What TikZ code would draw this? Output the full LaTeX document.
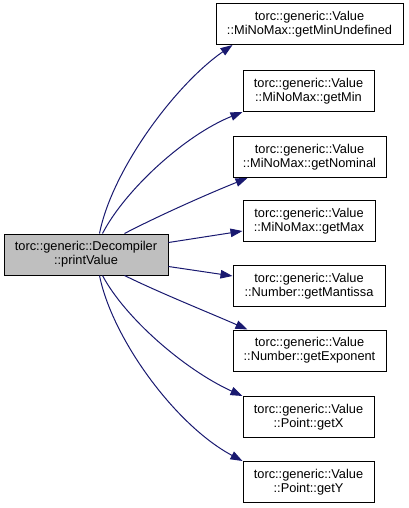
\documentclass[tikz,border=0pt]{standalone}
\usepackage{fontspec}
\setmainfont{Liberation Sans}
\usetikzlibrary{arrows.meta,calc}
\definecolor{edgecol}{HTML}{191970}
\definecolor{fillgray}{HTML}{BFBFBF}
\begin{document}
\begin{tikzpicture}[x=0.75pt,y=-0.75pt,
  box/.style={draw=black,line width=0.75pt,inner sep=0pt,align=center,
    minimum height=30.75pt,font=\fontsize{9.6}{10.5}\selectfont},
  edge/.style={draw=edgecol,line width=0.75pt,-{Triangle[length=9pt,width=6.4pt]}}]
\useasboundingbox (0,0) rectangle (408,508);
\node[box,fill=fillgray,minimum width=123pt] (L) at (86,254.5) {torc::generic::Decompiler\\::printValue};
\node[box,fill=white,minimum width=140.25pt] (r1) at (309.5,24) {torc::generic::Value\\::MiNoMax::getMinUndefined};
\node[box,fill=white,minimum width=98.25pt] (r2) at (308.5,91) {torc::generic::Value\\::MiNoMax::getMin};
\node[box,fill=white,minimum width=114.75pt] (r3) at (309.5,157) {torc::generic::Value\\::MiNoMax::getNominal};
\node[box,fill=white,minimum width=99pt] (r4) at (309,221) {torc::generic::Value\\::MiNoMax::getMax};
\node[box,fill=white,minimum width=114pt] (r5) at (309,286) {torc::generic::Value\\::Number::getMantissa};
\node[box,fill=white,minimum width=114.75pt] (r6) at (309.5,350.5) {torc::generic::Value\\::Number::getExponent};
\node[box,fill=white,minimum width=98.25pt] (r7) at (308.5,417) {torc::generic::Value\\::Point::getX};
\node[box,fill=white,minimum width=98.25pt] (r8) at (308.5,482) {torc::generic::Value\\::Point::getY};
\draw[edge] ($(L.north west)+(96,0)$) .. controls (112,170) and (175,85) .. ($(r1.south west)+(17,0)$);
\draw[edge] ($(L.north west)+(99,0)$) .. controls (125,190) and (185,135) .. (r2.south west);
\draw[edge] ($(L.north west)+(121,0)$) .. controls (160,215) and (210,193) .. ($(r3.south west)+(15,0)$);
\draw[edge] ($(L.north east)+(0,9)$) -- ($(r4.west)+(0,10)$);
\draw[edge] ($(L.south east)+(0,-9)$) -- ($(r5.west)+(0,-10)$);
\draw[edge] ($(L.south west)+(121,0)$) .. controls (160,293) and (210,313) .. ($(r6.north west)+(15,0)$);
\draw[edge] ($(L.south west)+(99,0)$) .. controls (125,318) and (185,370) .. (r7.north west);
\draw[edge] ($(L.south west)+(96,0)$) .. controls (112,338) and (175,425) .. (r8.north west);
\end{tikzpicture}
\end{document}
